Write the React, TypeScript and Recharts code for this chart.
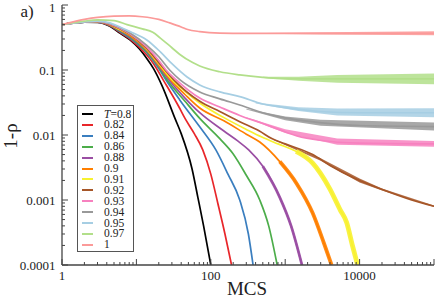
import React from 'react';
import { ComposedChart, Line, Area, XAxis, YAxis } from 'recharts';

type Pt = [number, number];
type BandPt = [number, number, number];

// legend labels (temperature) and colours, same order
const TEMPS = ['0.8', '0.82', '0.84', '0.86', '0.88', '0.9', '0.91', '0.92', '0.93', '0.94', '0.95', '0.97', '1'];
const COLORS = ['#000000', '#e8262a', '#3a7ebf', '#4cad4a', '#9a4ea3', '#ff7f00', '#f7f130', '#a65628', '#f781bf', '#999999', '#a6cee3', '#b2df8a', '#fb9a99'];

// 1-rho vs MCS
const T080: Pt[] = [[1, 0.5], [2, 0.545], [3, 0.54], [4.4, 0.47], [6, 0.37], [8.2, 0.29], [11, 0.21], [13.8, 0.15], [17, 0.105], [22, 0.058], [33, 0.018], [40, 0.0105], [56, 0.003], [67, 0.0011], [80, 0.0004], [100, 0.0001]];
const T082: Pt[] = [[1, 0.5], [2, 0.545], [3, 0.544], [4.4, 0.48], [6, 0.38], [8.2, 0.3], [13.8, 0.17], [17, 0.125], [23, 0.07], [38, 0.026], [45, 0.018], [60, 0.0105], [78, 0.0059], [100, 0.0025], [124, 0.0009], [155, 0.0003], [190, 0.0001]];
const T084: Pt[] = [[1, 0.5], [2, 0.546], [3, 0.546], [4.4, 0.485], [6, 0.39], [8.2, 0.31], [13.8, 0.185], [20, 0.105], [25, 0.07], [38, 0.035], [71, 0.0134], [117, 0.0059], [170, 0.0025], [245, 0.001], [320, 0.0003], [370, 0.0001]];
const T086: Pt[] = [[1, 0.5], [2, 0.547], [3, 0.548], [4.4, 0.488], [6, 0.4], [8.2, 0.32], [13.8, 0.19], [20, 0.11], [26, 0.07], [45, 0.033], [71, 0.018], [132, 0.0088], [198, 0.0052], [300, 0.0024], [455, 0.001], [600, 0.0004], [780, 0.0001]];
const T088: Pt[] = [[1, 0.5], [2, 0.547], [3, 0.55], [4.4, 0.49], [6, 0.41], [8.2, 0.33], [13.8, 0.2], [20, 0.115], [27.5, 0.07], [45, 0.037], [71, 0.022], [150, 0.0115], [230, 0.0081], [323, 0.0059], [500, 0.0033], [845, 0.0011], [1200, 0.0004], [1680, 0.0001]];
const T090: Pt[] = [[1, 0.5], [2, 0.548], [3, 0.552], [4.4, 0.495], [6, 0.415], [8.2, 0.34], [13.8, 0.205], [20, 0.12], [29, 0.07], [45, 0.042], [71, 0.026], [150, 0.0165], [300, 0.0103], [455, 0.0078], [845, 0.0039], [1420, 0.0018], [2340, 0.00063], [3300, 0.00022], [4200, 0.0001]];
const T091: Pt[] = [[1, 0.5], [2, 0.548], [3, 0.553], [4.4, 0.5], [6, 0.42], [8.2, 0.35], [13.8, 0.21], [20, 0.125], [30.5, 0.07], [45, 0.047], [71, 0.031], [150, 0.0185], [300, 0.0122], [485, 0.0093], [800, 0.0073], [1400, 0.0056], [2340, 0.0037], [3960, 0.0015], [5500, 0.0007], [6700, 0.00045], [8000, 0.0002], [9400, 0.0001]];
const T092: Pt[] = [[1, 0.5], [2, 0.55], [3, 0.555], [4.4, 0.5], [6, 0.43], [8.2, 0.355], [13.8, 0.215], [20, 0.13], [32, 0.07], [71, 0.033], [132, 0.023], [245, 0.016], [450, 0.0115], [660, 0.0088], [1000, 0.0073], [2340, 0.005], [4000, 0.0034], [9000, 0.0021], [18600, 0.0015], [50000, 0.001], [100000, 0.0008]];
const T093: Pt[] = [[1, 0.5], [2, 0.55], [3, 0.558], [4.4, 0.51], [6, 0.44], [8.2, 0.36], [13.8, 0.225], [20, 0.14], [25, 0.1], [34.6, 0.07], [71, 0.037], [132, 0.027], [245, 0.02], [500, 0.015], [850, 0.012], [1440, 0.0097], [2900, 0.0083], [10000, 0.0075], [100000, 0.0073]];
const T094: Pt[] = [[1, 0.5], [2, 0.55], [3, 0.56], [4.4, 0.52], [6, 0.45], [8.2, 0.37], [13.8, 0.24], [20, 0.16], [28, 0.1], [39, 0.07], [71, 0.046], [132, 0.036], [245, 0.029], [500, 0.022], [850, 0.019], [2900, 0.0155], [10000, 0.014], [100000, 0.0135]];
const T095: Pt[] = [[1, 0.5], [2, 0.55], [3, 0.565], [4.4, 0.53], [6, 0.46], [8.2, 0.39], [13.8, 0.29], [21, 0.19], [30, 0.125], [48, 0.078], [71, 0.059], [132, 0.046], [245, 0.039], [500, 0.03], [850, 0.027], [2900, 0.023], [10000, 0.022], [100000, 0.022]];
const T097: Pt[] = [[1, 0.5], [2, 0.565], [3, 0.59], [5, 0.575], [7.5, 0.5], [12, 0.43], [16.6, 0.38], [21, 0.31], [30, 0.22], [38, 0.175], [57, 0.13], [71, 0.115], [132, 0.094], [245, 0.084], [500, 0.077], [850, 0.074], [2000, 0.073], [100000, 0.073]];
const T100: Pt[] = [[1, 0.5], [2, 0.6], [3, 0.645], [5, 0.675], [8, 0.68], [12, 0.66], [20, 0.6], [28, 0.53], [40, 0.46], [49, 0.42], [71, 0.39], [132, 0.37], [300, 0.366], [100000, 0.366]];

const CURVES = [T080, T082, T084, T086, T088, T090, T091, T092, T093, T094, T095, T097, T100];

// fluctuation envelopes at late times: [MCS, low, high]
const BAND_092: BandPt[] = [[700, 0.00835, 0.00865], [3000, 0.004, 0.0044], [10000, 0.00186, 0.00215], [20000, 0.0014, 0.0015], [100000, 0.00078, 0.00082]];
const BAND_093: BandPt[] = [[300, 0.0182, 0.0188], [1000, 0.0107, 0.0123], [5000, 0.0071, 0.0088], [100000, 0.0066, 0.0081]];
const BAND_094: BandPt[] = [[300, 0.0246, 0.0254], [1000, 0.0168, 0.0193], [3000, 0.0139, 0.0172], [100000, 0.0117, 0.0156]];
const BAND_095: BandPt[] = [[400, 0.0305, 0.0316], [1500, 0.0233, 0.0268], [5000, 0.0199, 0.0255], [100000, 0.0188, 0.0258]];
const BAND_097: BandPt[] = [[500, 0.0756, 0.0784], [1500, 0.0685, 0.0789], [5000, 0.0634, 0.0841], [100000, 0.0601, 0.0887]];
const BAND_100: BandPt[] = [[300, 0.365, 0.367], [3000, 0.351, 0.382], [100000, 0.341, 0.393]];

const BANDS: { i: number; pts: BandPt[] }[] = [
  { i: 7, pts: BAND_092 },
  { i: 8, pts: BAND_093 },
  { i: 9, pts: BAND_094 },
  { i: 10, pts: BAND_095 },
  { i: 11, pts: BAND_097 },
  { i: 12, pts: BAND_100 },
];

// noisy ends of the decaying curves are drawn thicker
const THICK_TAILS = [
  { i: 4, from: 500, w: 2.8 },
  { i: 5, from: 845, w: 3.8 },
  { i: 6, from: 1400, w: 4.8 },
];

// axes
const X_MAJOR = [1, 10, 100, 1000, 10000, 100000];
const X_LABELS: Record<number, string> = { 1: '1', 100: '100', 10000: '10000' };
const Y_MAJOR = [0.0001, 0.001, 0.01, 0.1, 1];
const Y_LABELS: Record<number, string> = { 0.0001: '0.0001', 0.001: '0.001', 0.01: '0.01', 0.1: '0.1', 1: '1' };
const MINOR_STEPS = [2, 3, 4, 5, 6, 7, 8, 9];

const X_TICKS = [...X_MAJOR, ...X_MAJOR.slice(0, -1).flatMap(m => MINOR_STEPS.map(k => m * k))];
const Y_TICKS = [...Y_MAJOR, ...Y_MAJOR.slice(0, -1).flatMap(m => MINOR_STEPS.map(k => m * k))];

const FONT = '"Liberation Serif", "Times New Roman", serif';
const AXIS = '#444';

const isMajor = (list: number[], v: number) => list.some(m => Math.abs(m - v) / m < 1e-9);

const BottomTick = (p: any) => {
  const v = p.payload.value;
  const major = isMajor(X_MAJOR, v);
  const label = major ? X_LABELS[v] : undefined;
  return (
    <g>
      <line x1={p.x} x2={p.x} y1={p.y} y2={p.y - (major ? 6 : 3)} stroke={AXIS} strokeWidth={1} />
      {label && (
        <text x={p.x} y={p.y + 14.5} textAnchor="middle" fontSize={13} fontFamily={FONT} fill="#222">{label}</text>
      )}
    </g>
  );
};

const TopTick = (p: any) => {
  const major = isMajor(X_MAJOR, p.payload.value);
  return <line x1={p.x} x2={p.x} y1={p.y} y2={p.y + (major ? 6 : 3)} stroke={AXIS} strokeWidth={1} />;
};

const LeftTick = (p: any) => {
  const v = p.payload.value;
  const major = isMajor(Y_MAJOR, v);
  const label = major ? Y_LABELS[v] : undefined;
  return (
    <g>
      <line x1={p.x} x2={p.x + (major ? 6 : 3)} y1={p.y} y2={p.y} stroke={AXIS} strokeWidth={1} />
      {label && (
        <text x={p.x - 6.5} y={Math.max(p.y + 5, 11.5)} textAnchor="end" fontSize={13} fontFamily={FONT} fill="#222">{label}</text>
      )}
    </g>
  );
};

const RightTick = (p: any) => {
  const major = isMajor(Y_MAJOR, p.payload.value);
  return <line x1={p.x} x2={p.x - (major ? 6 : 3)} y1={p.y} y2={p.y} stroke={AXIS} strokeWidth={1} />;
};

const LegendBox = () => (
  <div
    style={{
      position: 'absolute', left: 77, top: 105, width: 55, height: 145,
      border: '1px solid #555', background: '#fff', fontFamily: FONT, fontSize: 11.5, color: '#222',
    }}
  >
    {TEMPS.map((t, i) => (
      <div key={t} style={{ position: 'absolute', left: 0, top: 2.5 + i * 10.9, height: 11, width: 55, lineHeight: '11px' }}>
        <span style={{ position: 'absolute', left: 4, top: 4.5, width: 11, height: 2, background: COLORS[i] }} />
        <span style={{ position: 'absolute', left: 26, top: 0, whiteSpace: 'nowrap' }}>
          {i === 0 ? (<><i>T</i>=0.8</>) : t}
        </span>
      </div>
    ))}
  </div>
);

const App: React.FC = () => {
  return (
    <div style={{ position: 'absolute', left: 0, top: 0, width: 436, height: 298, background: '#fff' }}>
      <ComposedChart width={436} height={298} margin={{ top: 5, right: 2, bottom: 0, left: 2 }}>
        <XAxis xAxisId="b" dataKey="x" type="number" scale="log" domain={[1, 100000]} allowDataOverflow
          ticks={X_TICKS} interval={0} tickSize={0} tickMargin={0} tickLine={false} tick={<BottomTick />}
          axisLine={{ stroke: AXIS, strokeWidth: 1.3 }} height={33} />
        <XAxis xAxisId="t" orientation="top" dataKey="x" type="number" scale="log" domain={[1, 100000]} allowDataOverflow
          ticks={X_TICKS} interval={0} tickSize={0} tickMargin={0} tickLine={false} tick={<TopTick />}
          axisLine={{ stroke: AXIS, strokeWidth: 1.3 }} height={0} />
        <YAxis yAxisId="l" type="number" scale="log" domain={[0.0001, 1]} allowDataOverflow
          ticks={Y_TICKS} interval={0} tickSize={0} tickMargin={0} tickLine={false} tick={<LeftTick />}
          axisLine={{ stroke: AXIS, strokeWidth: 1.3 }} width={60} />
        <YAxis yAxisId="r" orientation="right" type="number" scale="log" domain={[0.0001, 1]} allowDataOverflow
          ticks={Y_TICKS} interval={0} tickSize={0} tickMargin={0} tickLine={false} tick={<RightTick />}
          axisLine={{ stroke: AXIS, strokeWidth: 1.3 }} width={0} />

        {CURVES.map((pts, i) => (
          <Line key={'c' + TEMPS[i]} xAxisId="b" yAxisId="l" data={pts.map(([x, y]) => ({ x, y }))} dataKey="y"
            type="monotone" stroke={COLORS[i]} strokeWidth={1.7} dot={false} activeDot={false} isAnimationActive={false} />
        ))}
        {THICK_TAILS.map(t => (
          <Line key={'t' + t.i} xAxisId="b" yAxisId="l"
            data={CURVES[t.i].filter(([x]) => x >= t.from).map(([x, y]) => ({ x, y }))} dataKey="y"
            type="monotone" stroke={COLORS[t.i]} strokeWidth={t.w} strokeOpacity={0.9} dot={false} activeDot={false} isAnimationActive={false} />
        ))}
        {BANDS.map(b => (
          <Area key={'b' + b.i} xAxisId="b" yAxisId="l" data={b.pts.map(([x, lo, hi]) => ({ x, r: [lo, hi] }))} dataKey="r"
            type="linear" stroke="none" fill={COLORS[b.i]} fillOpacity={0.85} dot={false} activeDot={false} isAnimationActive={false} />
        ))}
      </ComposedChart>

      <svg width={436} height={298} style={{ position: 'absolute', left: 0, top: 0, pointerEvents: 'none' }}>
        <text x={20.5} y={17} fontSize={17} fontFamily={FONT} fill="#222">a)</text>
        <text x={247} y={295} textAnchor="middle" fontSize={19} fontFamily={FONT} fill="#222">MCS</text>
        <text transform="translate(17,136) rotate(-90)" textAnchor="middle" fontSize={19} fontFamily={FONT} fill="#222">1-ρ</text>
      </svg>
      <LegendBox />
    </div>
  );
};

export default App;
